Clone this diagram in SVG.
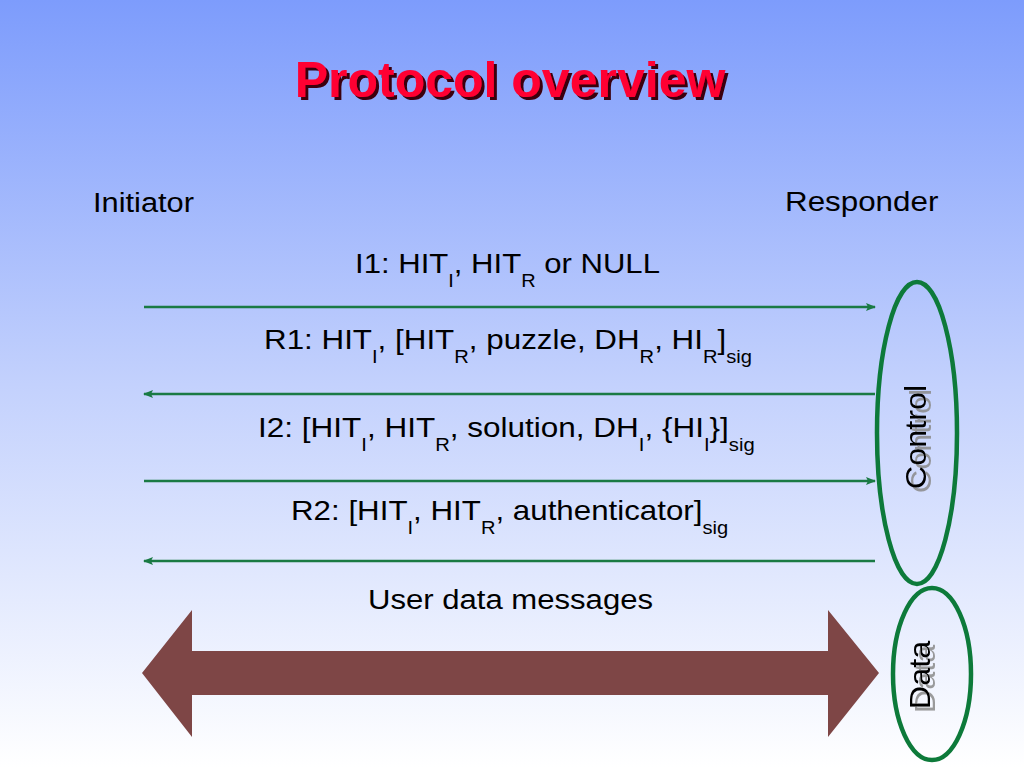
<svg xmlns="http://www.w3.org/2000/svg" width="1024" height="768" viewBox="0 0 1024 768">
<defs>
<linearGradient id="bg" x1="0" y1="0" x2="0" y2="1">
<stop offset="0" stop-color="#7d9cfc"/>
<stop offset="0.5" stop-color="#c3d1fd"/>
<stop offset="1" stop-color="#ffffff"/>
</linearGradient>
<filter id="tshadow" x="-5%" y="-20%" width="115%" height="150%">
<feOffset in="SourceAlpha" dx="2.5" dy="2.5" result="o"/>
<feFlood flood-color="#3a0010"/>
<feComposite in2="o" operator="in" result="s"/>
<feMerge><feMergeNode in="s"/><feMergeNode in="SourceGraphic"/></feMerge>
</filter>
<filter id="gshadow" x="-20%" y="-20%" width="150%" height="150%">
<feOffset in="SourceAlpha" dx="-4" dy="5" result="o"/>
<feFlood flood-color="#8a8a8a" flood-opacity="0.85"/>
<feComposite in2="o" operator="in" result="s"/>
<feMerge><feMergeNode in="s"/><feMergeNode in="SourceGraphic"/></feMerge>
</filter>
<marker id="ah" viewBox="0 0 10 8" refX="9" refY="4" markerWidth="10" markerHeight="8" markerUnits="userSpaceOnUse" orient="auto">
<path d="M0,0 L10,4 L0,8 L2,4 Z" fill="#1a7a44"/>
</marker>
<style>
.t{font-family:"Liberation Sans",Arial,sans-serif;font-size:28px;fill:#000}
.sub{font-size:18px}
.msg{stroke:#1a7a44;stroke-width:2.5;fill:none;marker-end:url(#ah)}
.ring{fill:none;stroke:#0d7a3a;stroke-width:4.5}
.lbl{font-family:"Liberation Sans",Arial,sans-serif;font-size:30px;text-anchor:middle;fill:#000;filter:url(#gshadow)}
</style>
</defs>
<rect width="1024" height="768" fill="url(#bg)"/>
<g id="title">
<text x="510" y="97" fill="#ff0033" font-family="Liberation Sans,Arial,sans-serif" font-weight="bold" font-size="50" text-anchor="middle" filter="url(#tshadow)">Protocol overview</text>
</g>
<g id="initiator"><text class="t" font-size="27" transform="translate(93,212) scale(1.1,1)">Initiator</text></g>
<g id="responder"><text class="t" font-size="27" transform="translate(785,211) scale(1.12,1)">Responder</text></g>
<g id="connectors">
<line class="msg" x1="144" y1="307" x2="875" y2="307"/>
<line class="msg" x1="875" y1="394" x2="144" y2="394"/>
<line class="msg" x1="144" y1="481" x2="875" y2="481"/>
<line class="msg" x1="875" y1="561" x2="144" y2="561"/>
<polygon id="data-arrow" points="142,673 192,610 192,651 828,651 828,610 879,673 828,737 828,695 192,695 192,737" fill="#7e4646"/>
</g>
<g id="labels">
<text class="t" transform="translate(355,273) scale(1.11,1)">I1: HIT<tspan class="sub" dy="14">I</tspan><tspan dy="-14">, HIT</tspan><tspan class="sub" dy="14">R</tspan><tspan dy="-14"> or NULL</tspan></text>
<text class="t" transform="translate(264,349) scale(1.12,1)">R1: HIT<tspan class="sub" dy="14">I</tspan><tspan dy="-14">, [HIT</tspan><tspan class="sub" dy="14">R</tspan><tspan dy="-14">, puzzle, DH</tspan><tspan class="sub" dy="14">R</tspan><tspan dy="-14">, HI</tspan><tspan class="sub" dy="14">R</tspan><tspan dy="-14">]</tspan><tspan class="sub" dy="14">sig</tspan></text>
<text class="t" transform="translate(258,437) scale(1.125,1)">I2: [HIT<tspan class="sub" dy="14">I</tspan><tspan dy="-14">, HIT</tspan><tspan class="sub" dy="14">R</tspan><tspan dy="-14">, solution, DH</tspan><tspan class="sub" dy="14">I</tspan><tspan dy="-14">, {HI</tspan><tspan class="sub" dy="14">I</tspan><tspan dy="-14">}]</tspan><tspan class="sub" dy="14">sig</tspan></text>
<text class="t" transform="translate(291,520) scale(1.118,1)">R2: [HIT<tspan class="sub" dy="14">I</tspan><tspan dy="-14">, HIT</tspan><tspan class="sub" dy="14">R</tspan><tspan dy="-14">, authenticator]</tspan><tspan class="sub" dy="14">sig</tspan></text>
<text class="t" transform="translate(368,609) scale(1.11,1)">User data messages</text>
</g>
<g id="control">
<ellipse class="ring" cx="917" cy="433" rx="40" ry="151"/>
<text class="lbl" transform="translate(926,437) rotate(-90) scale(1.08,1)">Control</text>
</g>
<g id="data">
<ellipse class="ring" cx="932" cy="674" rx="39" ry="86"/>
<text class="lbl" transform="translate(930,675) rotate(-90) scale(1.08,1)">Data</text>
</g>
</svg>
